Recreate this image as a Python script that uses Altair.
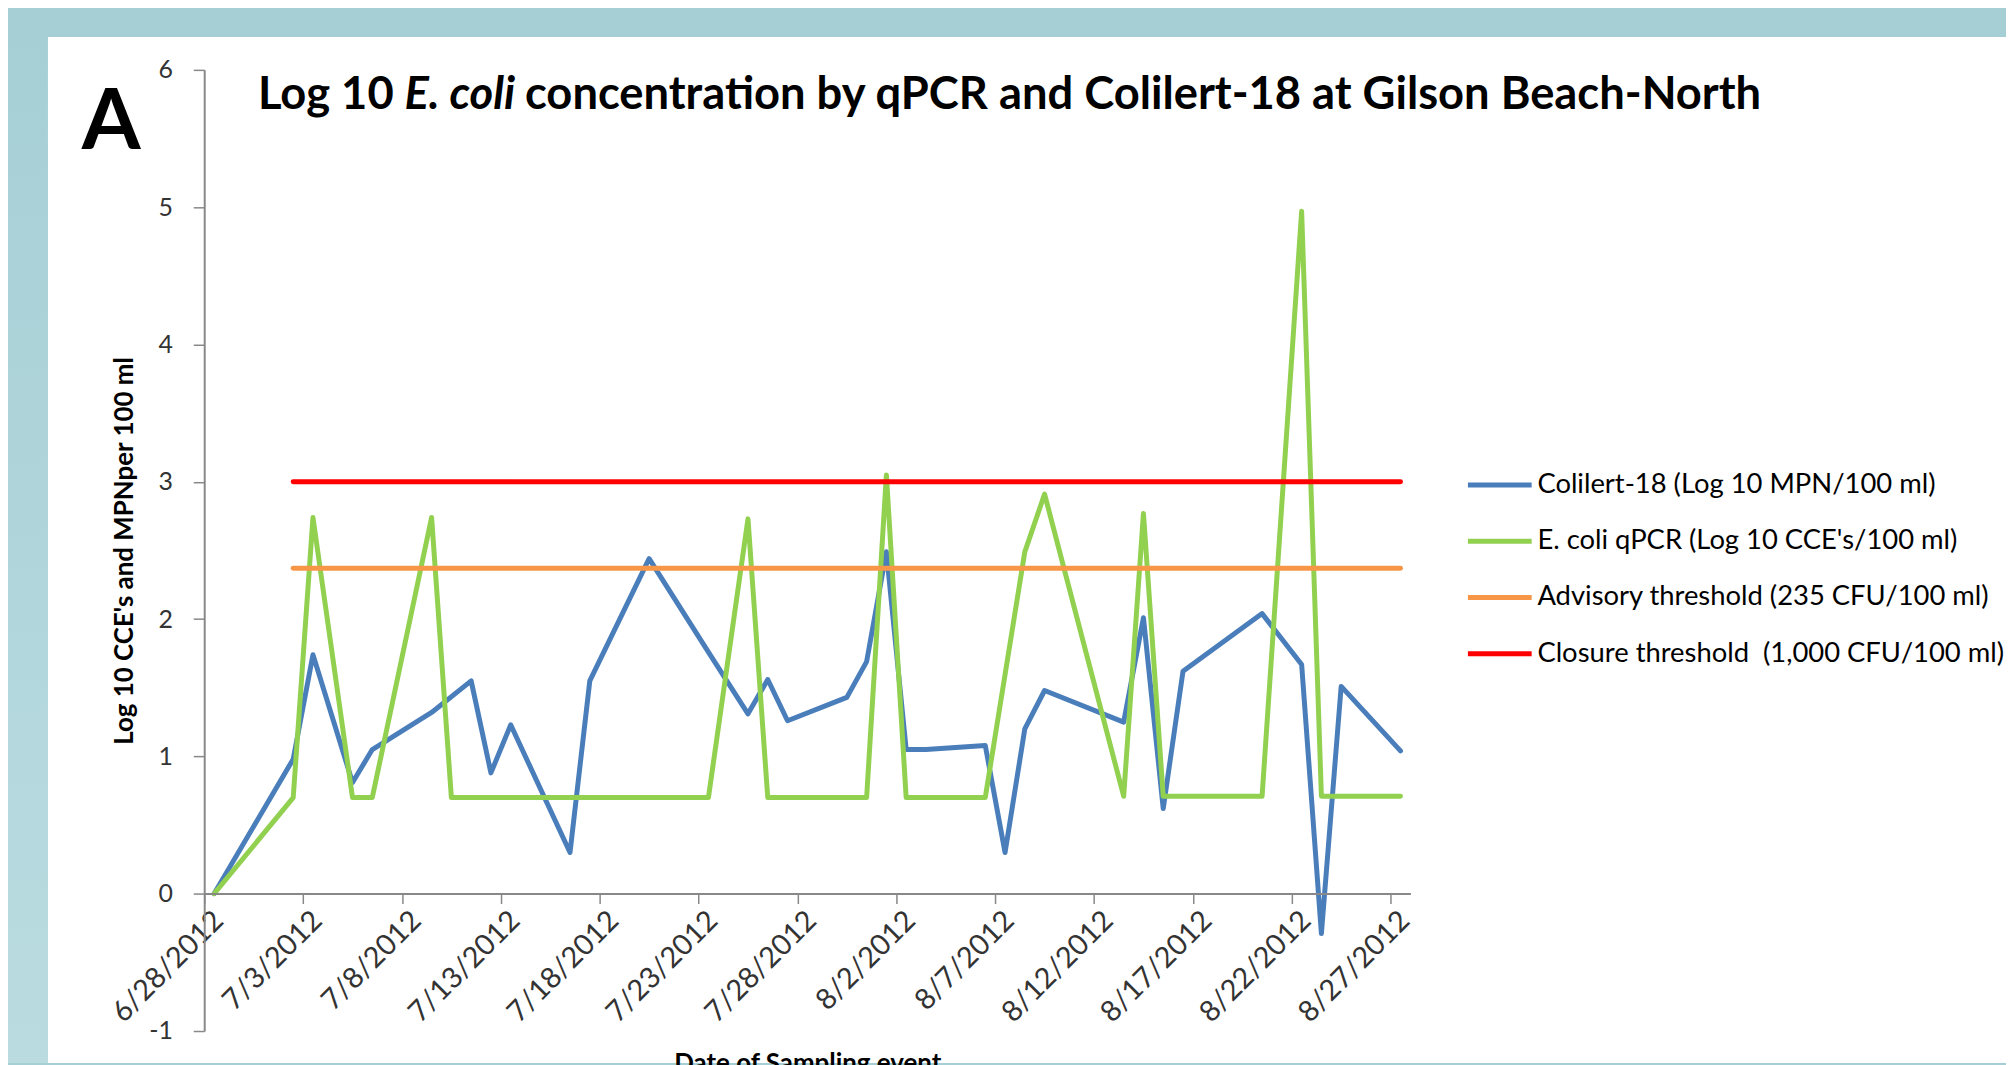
import altair as alt
import pandas as pd

# ---------------- data ----------------
colilert_dates = ["6/28/2012", "7/2/2012", "7/3/2012", "7/5/2012", "7/6/2012", "7/9/2012",
                  "7/11/2012", "7/12/2012", "7/13/2012", "7/16/2012", "7/17/2012", "7/20/2012",
                  "7/23/2012", "7/25/2012", "7/26/2012", "7/27/2012", "7/30/2012", "7/31/2012",
                  "8/1/2012", "8/2/2012", "8/3/2012", "8/6/2012", "8/7/2012", "8/8/2012",
                  "8/9/2012", "8/13/2012", "8/14/2012", "8/15/2012", "8/16/2012", "8/20/2012",
                  "8/22/2012", "8/23/2012", "8/24/2012", "8/27/2012"]
colilert_values = [0.0, 0.98, 1.74, 0.81, 1.05, 1.32, 1.55, 0.88, 1.23, 0.30, 1.55, 2.44,
                   1.76, 1.31, 1.56, 1.26, 1.43, 1.69, 2.49, 1.05, 1.05, 1.08, 0.30, 1.20,
                   1.48, 1.25, 2.01, 0.62, 1.62, 2.04, 1.67, -0.29, 1.51, 1.04]

qpcr_dates = ["6/28/2012", "7/2/2012", "7/3/2012", "7/5/2012", "7/6/2012", "7/9/2012",
              "7/10/2012", "7/23/2012", "7/25/2012", "7/26/2012", "7/31/2012", "8/1/2012",
              "8/2/2012", "8/6/2012", "8/8/2012", "8/9/2012", "8/13/2012", "8/14/2012",
              "8/15/2012", "8/20/2012", "8/22/2012", "8/23/2012", "8/27/2012"]
qpcr_values = [0.0, 0.70, 2.74, 0.70, 0.70, 2.74, 0.70, 0.70, 2.73, 0.70, 0.70, 3.05,
               0.70, 0.70, 2.49, 2.91, 0.71, 2.77, 0.71, 0.71, 4.97, 0.71, 0.71]

threshold_dates = ["7/2/2012", "8/27/2012"]
advisory_values = [2.371, 2.371]
closure_values = [3.0, 3.0]

series_names = ["Colilert-18 (Log 10 MPN/100 ml)",
                "E. coli qPCR (Log 10 CCE's/100 ml)",
                "Advisory threshold (235 CFU/100 ml)",
                "Closure threshold\u00a0 (1,000 CFU/100 ml)"]
series_colors = ["#4A7EBB", "#92D050", "#F79646", "#FF0000"]

tick_labels = ["6/28/2012", "7/3/2012", "7/8/2012", "7/13/2012", "7/18/2012", "7/23/2012",
               "7/28/2012", "8/2/2012", "8/7/2012", "8/12/2012", "8/17/2012", "8/22/2012",
               "8/27/2012"]
y_ticks = [-1, 0, 1, 2, 3, 4, 5, 6]

title_parts = ["Log 10", "E. coli", "concentration by qPCR and Colilert-18 at Gilson Beach-North"]
y_title = "Log 10 CCE's and MPNper 100 ml"
x_title = "Date of Sampling event"
panel_letter = "A"

# ---------------- table ----------------
frames = []
for name, ds, vs in [(series_names[0], colilert_dates, colilert_values),
                     (series_names[1], qpcr_dates, qpcr_values),
                     (series_names[2], threshold_dates, advisory_values),
                     (series_names[3], threshold_dates, closure_values)]:
    frames.append(pd.DataFrame({"series": name, "day": ds, "value": vs}))
df = pd.concat(frames, ignore_index=True)
# Excel date axis plots each day in the middle of its slot
df["date"] = pd.to_datetime(df["day"], format="%m/%d/%Y") + pd.Timedelta(hours=12)
df["order"] = df["series"].map({n: i for i, n in enumerate(series_names)})


def dt(s):
    m, d, y = s.split("/")
    return alt.DateTime(year=int(y), month=int(m), date=int(d))


W, H = 1211, 965
FONT = "Lato"

x_enc = alt.X(
    "date:T",
    scale=alt.Scale(domain=[dt("6/28/2012"), dt("8/28/2012")]),
    axis=alt.Axis(values=[dt(t) for t in tick_labels], format="%-m/%-d/%Y",
                  labelAngle=315, labelAlign="right", labelBaseline="middle",
                  labelFont=FONT, labelFontSize=29, labelColor="#333333",
                  labelPadding=12, labelOffset=14, labelOverlap=False, labelFlush=False,
                  offset=-138, domainColor="#888888", domainWidth=2,
                  tickColor="#888888", tickWidth=1.5, tickSize=10, grid=False, zindex=2,
                  title=x_title, titleFont=FONT, titleFontSize=26, titleFontWeight="bold",
                  titleColor="#000000", titleX=W / 2, titleY=158,
                  titleAlign="center", titleBaseline="top"),
)
y_enc = alt.Y(
    "value:Q",
    scale=alt.Scale(domain=[-1, 6], nice=False, zero=False),
    axis=alt.Axis(values=y_ticks, labelExpr="'' + datum.value",
                  labelFont=FONT, labelFontSize=25, labelColor="#333333",
                  labelPadding=21, tickSize=11, tickColor="#888888", tickWidth=1.5,
                  domainColor="#888888", domainWidth=2, grid=False, zindex=2,
                  title=y_title, titleFont=FONT, titleFontSize=26, titleFontWeight="bold",
                  titleColor="#000000", titleX=-80, titleY=H / 2, titleAngle=270,
                  titleAlign="center", titleBaseline="middle"),
)

lines = alt.Chart(df).mark_line(strokeWidth=5, strokeCap="round", strokeJoin="round").encode(
    x=x_enc,
    y=y_enc,
    color=alt.Color("series:N",
                    scale=alt.Scale(domain=series_names, range=series_colors),
                    sort=series_names,
                    legend=alt.Legend(orient="none", legendX=1287, legendY=403, title=None,
                                      symbolType="M-3,0H3", symbolSize=455,
                                      symbolStrokeWidth=5, labelFont=FONT,
                                      labelFontSize=27.5, labelColor="#000000",
                                      labelOffset=24, rowPadding=27.5, labelLimit=800,
                                      padding=0, zindex=3)),
    order=alt.Order("order:Q"),
)

one = alt.Data(values=[{}])
panel = alt.Chart(one).mark_rect(color="#FFFFFF").encode(
    x=alt.value(-157), x2=alt.value(1809), y=alt.value(-33), y2=alt.value(997))
band = alt.Chart(one).mark_rect(
    color=alt.LinearGradient(gradient="linear",
                             stops=[alt.GradientStop(color="#A6CFD5", offset=0),
                                    alt.GradientStop(color="#BADCE1", offset=1)],
                             x1=0, x2=0, y1=0, y2=1)
).encode(x=alt.value(-197), x2=alt.value(-157), y=alt.value(-33), y2=alt.value(997))

TS = 45.5
t1 = alt.Chart(one).mark_text(text=title_parts[0], font=FONT, fontSize=TS, fontWeight="bold",
                              align="left", baseline="alphabetic", color="#000000").encode(
    x=alt.value(54), y=alt.value(39))
t2 = alt.Chart(one).mark_text(text=title_parts[1], font=FONT, fontSize=TS, fontWeight="bold",
                              fontStyle="italic", align="left", baseline="alphabetic",
                              color="#000000").encode(x=alt.value(201), y=alt.value(39))
t3 = alt.Chart(one).mark_text(text=title_parts[2], font=FONT, fontSize=TS, fontWeight="bold",
                              align="left", baseline="alphabetic", color="#000000").encode(
    x=alt.value(322), y=alt.value(39))
letter = alt.Chart(one).mark_text(text=panel_letter, font=FONT, fontSize=85, fontWeight="bold",
                                  align="left", baseline="alphabetic", color="#000000").encode(
    x=alt.value(-123), y=alt.value(79))

chart = alt.layer(panel, band, lines, t1, t2, t3, letter).properties(
    width=W, height=H,
    autosize=alt.AutoSizeParams(type="none"),
    padding={"left": 197, "top": 60, "right": 598, "bottom": 32},
    background="#A6CFD5",
).configure_view(stroke="transparent")

chart.save("out.html", embed_options={"renderer": "svg", "actions": False})
